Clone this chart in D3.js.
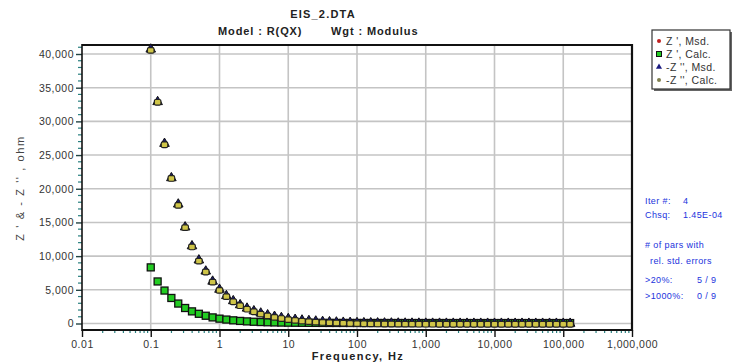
<!DOCTYPE html>
<html>
<head>
<meta charset="utf-8">
<script src="https://cdn.jsdelivr.net/npm/d3@7"></script>
<style>
  html, body { margin: 0; padding: 0; background: #fff; }
  svg { display: block; font-family: "Liberation Sans", Arial, sans-serif; }
</style>
</head>
<body>
<svg id="chart" width="732" height="363"></svg>
<script>
// Frequencies of the sweep, Hz (10 points per decade)
const frequency = [
  0.1, 0.1259, 0.1585, 0.1995, 0.2512, 0.3162, 0.3981, 0.5012, 0.631, 0.7943,
  1, 1.259, 1.585, 1.995, 2.512, 3.162, 3.981, 5.012, 6.31, 7.943,
  10, 12.59, 15.85, 19.95, 25.12, 31.62, 39.81, 50.12, 63.1, 79.43,
  100, 125.9, 158.5, 199.5, 251.2, 316.2, 398.1, 501.2, 631, 794.3,
  1000, 1259, 1585, 1995, 2512, 3162, 3981, 5012, 6310, 7943,
  10000, 12589, 15849, 19953, 25119, 31623, 39811, 50119, 63096, 79433,
  100000, 125893
];

// Z' (real part), ohm
const zRealMsd = [
  8350, 6250, 4900, 3780, 2950, 2300, 1800, 1450, 1150, 900,
  720, 580, 470, 380, 310, 260, 215, 180, 155, 135,
  120, 110, 100, 95, 90, 85, 82, 80, 78, 76,
  75, 74, 73, 72, 71, 70, 70, 69, 69, 68,
  68, 68, 67, 67, 67, 66, 66, 66, 66, 65,
  65, 65, 65, 65, 65, 64, 64, 64, 64, 64,
  64, 64
];
const zRealCalc = [
  8330, 6240, 4890, 3790, 2960, 2300, 1800, 1440, 1150, 905,
  720, 585, 470, 382, 312, 258, 216, 182, 156, 136,
  121, 110, 101, 95, 90, 85, 82, 80, 78, 76,
  75, 74, 73, 72, 71, 70, 70, 69, 69, 68,
  68, 68, 67, 67, 67, 66, 66, 66, 66, 65,
  65, 65, 65, 65, 65, 64, 64, 64, 64, 64,
  64, 64
];

// -Z'' (imaginary part, sign reversed), ohm
const zImagMsd = [
  40700, 32900, 26700, 21600, 17700, 14300, 11500, 9400, 7750, 6250,
  5050, 4100, 3350, 2750, 2250, 1850, 1520, 1250, 1030, 850,
  700, 580, 480, 400, 330, 270, 225, 185, 150, 125,
  100, 82, 67, 55, 45, 37, 30, 25, 20, 17,
  14, 11, 9, 8, 7, 6, 5, 4, 3.5, 3,
  2.5, 2, 1.8, 1.6, 1.4, 1.2, 1, 0.9, 0.8, 0.7,
  0.6, 0.5
];
const zImagCalc = [
  40650, 32950, 26650, 21650, 17650, 14350, 11480, 9380, 7760, 6260,
  5040, 4110, 3340, 2760, 2240, 1860, 1510, 1255, 1025, 855,
  698, 582, 478, 402, 328, 272, 224, 186, 150, 124,
  100, 82, 67, 55, 45, 37, 30, 25, 20, 17,
  14, 11, 9, 8, 7, 6, 5, 4, 3.5, 3,
  2.5, 2, 1.8, 1.6, 1.4, 1.2, 1, 0.9, 0.8, 0.7,
  0.6, 0.5
];

// Axis ticks and labels
const xTickValues = [0.01, 0.1, 1, 10, 100, 1000, 10000, 100000, 1000000];
const yTickValues = [0, 5000, 10000, 15000, 20000, 25000, 30000, 35000, 40000];

const legendLabels = ["Z ',  Msd.", "Z ',  Calc.", "-Z '',  Msd.", "-Z '',  Calc."];
const fitInfo = [
  ["Iter #:", "4"],
  ["Chsq:", "1.45E-04"]
];
const parInfo = ["# of pars with", "rel. std. errors"];
const errInfo = [[">20%:", "5 / 9"], [">1000%:", "0 / 9"]];

const svg = d3.select("#chart");

const plotL = 82, plotR = 632, plotT = 45, plotB = 330;

const x = d3.scaleLog().domain([0.01, 1000000]).range([plotL, plotR]);
const y = d3.scaleLinear().domain([-965, 41336]).range([plotB, plotT]);

const fmt = d3.format(",");

// Grid
const grid = svg.append("g");
grid.selectAll("line.vx")
  .data(xTickValues.slice(1, -1))
  .join("line")
  .attr("x1", d => x(d)).attr("x2", d => x(d))
  .attr("y1", plotT).attr("y2", plotB)
  .attr("stroke", "#c4c4c4").attr("stroke-width", 1.6);
grid.selectAll("line.hy")
  .data(yTickValues)
  .join("line")
  .attr("x1", plotL).attr("x2", plotR)
  .attr("y1", d => y(d)).attr("y2", d => y(d))
  .attr("stroke", "#c4c4c4").attr("stroke-width", 1.6);

// Y axis with minor ticks every 1000
const yMinor = d3.range(0, 41001, 1000).filter(v => v % 5000 !== 0);
const yAxisG = svg.append("g").attr("transform", `translate(${plotL},0)`);
yAxisG.call(d3.axisLeft(y).tickValues(yTickValues).tickFormat(fmt).tickSize(6).tickPadding(2))
  .call(g => g.select(".domain").remove())
  .call(g => g.selectAll(".tick line").attr("stroke", "#224444").attr("stroke-width", 1.4))
  .call(g => g.selectAll(".tick text").attr("fill", "#333").attr("font-size", 10.5)
    .attr("letter-spacing", 0.5).attr("font-family", "Liberation Sans, Arial, sans-serif"));
yAxisG.selectAll("line.minor")
  .data(yMinor)
  .join("line")
  .attr("x1", -4).attr("x2", 0)
  .attr("y1", d => y(d)).attr("y2", d => y(d))
  .attr("stroke", "#2a8080").attr("stroke-width", 1.2);

// X axis with minor ticks at 2..9 of each decade
const xMinor = [];
for (let e = -2; e < 6; e++) for (let m = 2; m <= 9; m++) xMinor.push(m * Math.pow(10, e));
const xAxisG = svg.append("g").attr("transform", `translate(0,${plotB})`);
xAxisG.call(d3.axisBottom(x).tickValues(xTickValues).tickFormat(d => d < 1 ? String(d) : fmt(d)).tickSize(7).tickPadding(4))
  .call(g => g.select(".domain").remove())
  .call(g => g.selectAll(".tick line").attr("stroke", "#111").attr("stroke-width", 1.4))
  .call(g => g.selectAll(".tick text").attr("fill", "#333").attr("font-size", 10.5)
    .attr("letter-spacing", 0.5).attr("font-family", "Liberation Sans, Arial, sans-serif"));
xAxisG.selectAll("line.minor")
  .data(xMinor)
  .join("line")
  .attr("x1", d => x(d)).attr("x2", d => x(d))
  .attr("y1", 0).attr("y2", 3)
  .attr("stroke", "#2a8080").attr("stroke-width", 1.2);

// Frame
svg.append("line").attr("x1", plotL).attr("x2", plotR).attr("y1", plotT).attr("y2", plotT)
  .attr("stroke", "#111").attr("stroke-width", 2.2);
svg.append("line").attr("x1", plotR).attr("x2", plotR).attr("y1", plotT - 1).attr("y2", plotB + 1)
  .attr("stroke", "#111").attr("stroke-width", 2.2);
svg.append("line").attr("x1", plotL).attr("x2", plotL).attr("y1", plotT - 1).attr("y2", plotB + 1)
  .attr("stroke", "#111").attr("stroke-width", 1.6);
svg.append("line").attr("x1", plotL).attr("x2", plotR + 1).attr("y1", plotB).attr("y2", plotB)
  .attr("stroke", "#111").attr("stroke-width", 2.2);

// Data markers
const pts = (vals) => frequency.map((f, i) => ({ f, v: vals[i] }));
const marks = svg.append("g");

marks.selectAll("circle.zrm")
  .data(pts(zRealMsd)).join("circle")
  .attr("cx", d => x(d.f)).attr("cy", d => y(d.v)).attr("r", 2)
  .attr("fill", "#c02020");

marks.selectAll("rect.zrc")
  .data(pts(zRealCalc)).join("rect")
  .attr("x", d => x(d.f) - 3.5).attr("y", d => y(d.v) - 3.5)
  .attr("width", 7).attr("height", 7)
  .attr("fill", "#22cc22").attr("stroke", "#111").attr("stroke-width", 1.3);

const tri = d3.symbol().type(d3.symbolTriangle).size(40);
marks.selectAll("path.zim")
  .data(pts(zImagMsd)).join("path")
  .attr("transform", d => `translate(${x(d.f)},${y(d.v)})`)
  .attr("d", tri)
  .attr("fill", "#1a1a70").attr("stroke", "#111").attr("stroke-width", 1);

marks.selectAll("rect.zic")
  .data(pts(zImagCalc)).join("rect")
  .attr("x", d => x(d.f) - 3.3).attr("y", d => y(d.v) - 2)
  .attr("width", 6.6).attr("height", 5.6).attr("rx", 1.5)
  .attr("fill", "#cfc548").attr("stroke", "#222").attr("stroke-width", 1.2);

// Titles
svg.append("text").attr("x", 323).attr("y", 18).attr("text-anchor", "middle")
  .attr("font-size", 11).attr("font-weight", "bold").attr("letter-spacing", 1.2).attr("fill", "#222")
  .text("EIS_2.DTA");
svg.append("text").attr("x", 218).attr("y", 35)
  .attr("font-size", 11).attr("font-weight", "bold").attr("letter-spacing", 0.9).attr("fill", "#222")
  .text("Model : R(QX)");
svg.append("text").attr("x", 331).attr("y", 35)
  .attr("font-size", 11).attr("font-weight", "bold").attr("letter-spacing", 0.9).attr("fill", "#222")
  .text("Wgt : Modulus");

// Axis titles
svg.append("text").attr("x", 358).attr("y", 360).attr("text-anchor", "middle")
  .attr("font-size", 11).attr("font-weight", "bold").attr("letter-spacing", 1.4).attr("fill", "#222")
  .text("Frequency,  Hz");
svg.append("text")
  .attr("transform", "translate(24,188) rotate(-90)")
  .attr("text-anchor", "middle").attr("font-size", 11).attr("letter-spacing", 1.6).attr("fill", "#444")
  .text("Z ' & - Z '' , ohm");

// Legend
const lg = svg.append("g");
lg.append("rect").attr("x", 654).attr("y", 32).attr("width", 78).attr("height", 59).attr("fill", "#666");
lg.append("rect").attr("x", 652).attr("y", 30).attr("width", 78).attr("height", 59)
  .attr("fill", "#fff").attr("stroke", "#333").attr("stroke-width", 1.2);
const ly = [41, 54, 67, 80];
lg.append("circle").attr("cx", 659).attr("cy", ly[0]).attr("r", 2).attr("fill", "#c02020");
lg.append("rect").attr("x", 656.5).attr("y", ly[1] - 2.5).attr("width", 5).attr("height", 5)
  .attr("fill", "#22cc22").attr("stroke", "#111").attr("stroke-width", 1);
lg.append("path").attr("transform", `translate(659,${ly[2]})`)
  .attr("d", d3.symbol().type(d3.symbolTriangle).size(16)).attr("fill", "#1a1a80");
lg.append("circle").attr("cx", 659).attr("cy", ly[3]).attr("r", 2).attr("fill", "#808050");
lg.selectAll("text.lab").data(legendLabels).join("text")
  .attr("x", 666).attr("y", (d, i) => ly[i] + 4)
  .attr("font-size", 10.5).attr("letter-spacing", 0.4).attr("fill", "#333")
  .text(d => d);

// Fit summary
const info = svg.append("g").attr("fill", "#2233dd").attr("font-size", 9).attr("letter-spacing", 0.4);
fitInfo.forEach((r, i) => {
  info.append("text").attr("x", 645).attr("y", 204 + i * 14).text(r[0]);
  info.append("text").attr("x", 683).attr("y", 204 + i * 14).text(r[1]);
});
info.append("text").attr("x", 645).attr("y", 248).text(parInfo[0]);
info.append("text").attr("x", 650).attr("y", 264).text(parInfo[1]);
errInfo.forEach((r, i) => {
  info.append("text").attr("x", 645).attr("y", 283 + i * 16).text(r[0]);
  info.append("text").attr("x", 697).attr("y", 283 + i * 16).text(r[1]);
});
</script>
</body>
</html>
